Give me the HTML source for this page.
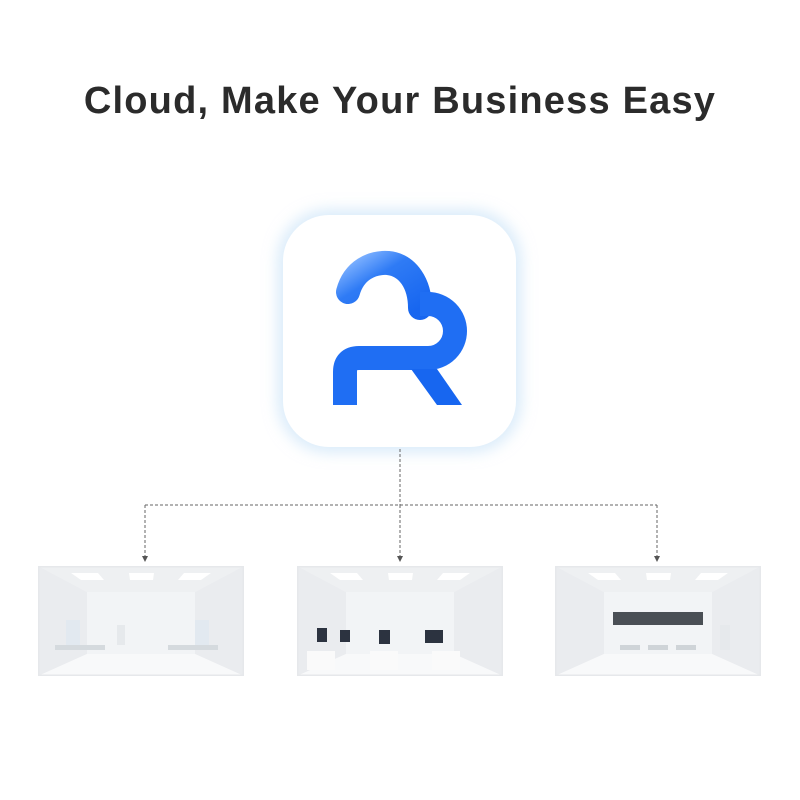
<!DOCTYPE html>
<html><head><meta charset="utf-8"><style>
html,body{margin:0;padding:0;background:#fff;}
body{width:800px;height:800px;position:relative;overflow:hidden;font-family:"Liberation Sans",sans-serif;}
h1{position:absolute;top:80px;left:0;width:800px;text-align:center;margin:0;font-size:38px;font-weight:bold;color:#2b2b2b;letter-spacing:1.2px;}
.icon{position:absolute;left:283px;top:215px;width:233px;height:232px;border-radius:46px;background:#fff;box-shadow:0 0 14px 6px rgba(190,220,245,0.55);}
svg{position:absolute;left:0;top:0;}
</style></head><body>
<h1>Cloud, Make Your Business Easy</h1>
<div class="icon"></div>
<svg width="800" height="800" viewBox="0 0 800 800">
<defs>
<linearGradient id="g1" x1="0" y1="0" x2="1" y2="1"><stop offset="0" stop-color="#7fb2ff"/><stop offset="0.35" stop-color="#2f7bf5"/><stop offset="1" stop-color="#1766f0"/></linearGradient>
<symbol id="room" viewBox="0 0 206 110">
<rect x="0" y="0" width="206" height="110" fill="#f6f7f8"/>
<polygon points="0,0 206,0 157,26 49,26" fill="#eef0f2"/>
<polygon points="0,0 49,26 49,88 0,110" fill="#eaecef"/>
<polygon points="206,0 157,26 157,88 206,110" fill="#eaecef"/>
<rect x="49" y="26" width="108" height="62" fill="#f2f4f6"/>
<polygon points="0,110 49,88 157,88 206,110" fill="#f8f9fa"/>
<polygon points="33,7 60,7 66,14 43,14" fill="#fff"/>
<polygon points="91,7 116,7 115,14 92,14" fill="#fff"/>
<polygon points="146,7 173,7 163,14 140,14" fill="#fff"/>
<rect x="0" y="0" width="206" height="110" fill="none" stroke="#e6e8eb" stroke-width="3"/>
</symbol>
</defs>
<!-- logo -->
<path d="M348,292 C354,270 372,262 388,263 C408,265 420,284 420,308" fill="none" stroke="url(#g1)" stroke-width="24" stroke-linecap="round"/>
<path d="M345,405 L345,372 Q345,358 359,358 L428,358 A27,27 0 0 0 428,304 L420,304" fill="none" stroke="#1f6ef3" stroke-width="24"/>
<polygon points="411,369 437,369 462,405 437,405" fill="#1766f0"/>
<!-- connectors -->
<g stroke="#666" stroke-width="1" stroke-dasharray="3,2" fill="none">
<path d="M400,449 V505"/><path d="M145,505 H657"/>
<path d="M145,505 V556"/><path d="M400,505 V556"/><path d="M657,505 V556"/>
</g>
<g fill="#555">
<polygon points="142,556 148,556 145,562"/><polygon points="397,556 403,556 400,562"/><polygon points="654,556 660,556 657,562"/>
</g>
<!-- rooms -->
<use href="#room" x="38" y="566" width="206" height="110"/>
<use href="#room" x="297" y="566" width="206" height="110"/>
<use href="#room" x="555" y="566" width="206" height="110"/>
<!-- room details -->
<g fill="#d5dade">
<rect x="55" y="645" width="50" height="5"/><rect x="168" y="645" width="50" height="5"/>
<rect x="66" y="620" width="14" height="25" fill="#e2e9f0"/><rect x="195" y="620" width="14" height="25" fill="#e2e9f0"/>
<rect x="117" y="625" width="8" height="20" fill="#e6e9ec"/>
</g>
<g>
<rect x="317" y="628" width="10" height="14" fill="#2c3340"/><rect x="340" y="630" width="10" height="12" fill="#2c3340"/>
<rect x="379" y="630" width="11" height="14" fill="#2c3340"/><rect x="425" y="630" width="18" height="13" fill="#2c3340"/>
<rect x="307" y="651" width="28" height="19" fill="#fafafa"/><rect x="370" y="651" width="28" height="19" fill="#fafafa"/><rect x="432" y="651" width="28" height="19" fill="#fafafa"/>
</g>
<g>
<rect x="613" y="612" width="90" height="13" fill="#4a4f55"/>
<rect x="620" y="645" width="20" height="5" fill="#cfd4d8"/><rect x="648" y="645" width="20" height="5" fill="#cfd4d8"/><rect x="676" y="645" width="20" height="5" fill="#cfd4d8"/>
<rect x="720" y="625" width="10" height="25" fill="#e6e9ec"/>
</g>
</svg>
</body></html>
